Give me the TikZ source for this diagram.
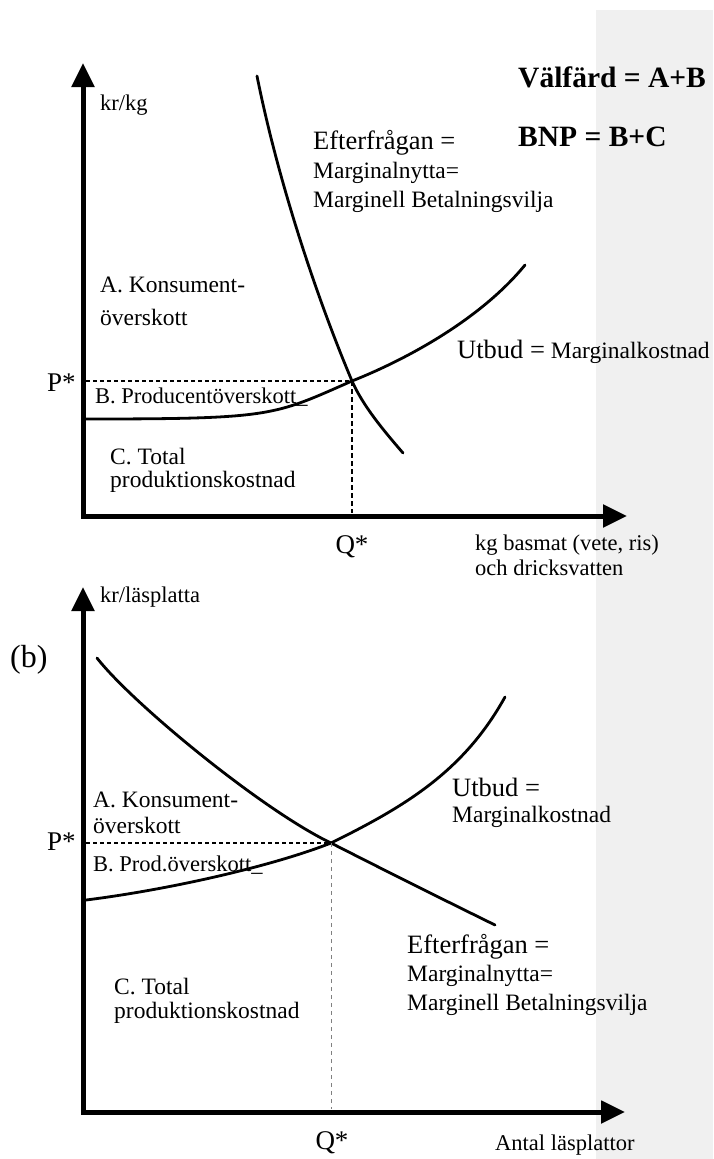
\documentclass[tikz,border=0pt]{standalone}
\usepackage{fontspec}
\setmainfont{Liberation Serif}
\usetikzlibrary{arrows.meta}
\definecolor{panel}{HTML}{F0F0F0}
\tikzset{
  axis/.style={line width=5pt, line join=miter,
    {Triangle[width=22pt,length=24pt]}-{Triangle[width=22pt,length=24pt]}},
  curve/.style={line width=2.8pt, line cap=round},
  guide/.style={line width=1.2pt, dash pattern=on 4pt off 3pt},
  guideq/.style={line width=1.1pt, dash pattern=on 5pt off 3pt},
  guideg/.style={line width=1pt, gray, dash pattern=on 4pt off 4pt},
  txt/.style={anchor=west, inner sep=0pt, font=\fontsize{23.5}{28}\selectfont},
  txtbig/.style={anchor=west, inner sep=0pt, font=\fontsize{26.5}{30}\selectfont},
  txtsm/.style={anchor=west, inner sep=0pt, font=\fontsize{22.5}{27}\selectfont},
  txtbold/.style={anchor=west, inner sep=0pt, font=\fontsize{29.5}{34}\selectfont\bfseries},
  star/.style={inner sep=0pt, font=\fontsize{27}{30}\selectfont}
}
\begin{document}
\begin{tikzpicture}[x=1pt,y=-1pt]
\useasboundingbox (0,0) rectangle (713,1159);
\fill[panel] (596,10) rectangle (713,1159);

% ---------------- top chart ----------------
\coordinate (Ay1) at (83,63);
\coordinate (Ao1) at (83,516);
\coordinate (Ax1) at (627,516);
\coordinate (E1) at (352,381);
\coordinate (P1) at (86,381);
\coordinate (Q1) at (352,513);
\coordinate (D1s) at (257,76);
\coordinate (D1e) at (403,453);
\coordinate (S1s) at (86,419);
\coordinate (S1e) at (525,265);

\draw[curve] (D1s) .. controls (277,176) and (314,291) .. (E1)
                   .. controls (363,406) and (384,431) .. (D1e);
\draw[curve] (S1s) .. controls (274,419) and (273,415.7) .. (E1)
                   .. controls (405,360) and (480,320) .. (S1e);
\draw[guide] (P1) -- (E1);
\draw[guideq] (E1) -- (Q1);
\draw[axis] (Ay1) -- (Ao1) -- (Ax1);

\node[txtsm] (ylab1) at (100,105) {kr/kg};
\node[txtbold] (valf) at (518,77) {Välfärd = A+B};
\node[txtbold] (bnp) at (518,137) {BNP = B+C};
\node[txtbig] (eft1) at (313,143) {Efterfrågan =};
\node[txt] (mn1) at (313,173) {Marginalnytta=};
\node[txt] (mb1) at (313,202) {Marginell Betalningsvilja};
\node[txt] (ka1) at (100,285) {A. Konsument-};
\node[txt] (kb1) at (100,317) {överskott};
\node[star, anchor=west] (ps1) at (47,383) {P*};
\node[txtsm] (pr1) at (95,397) {B. Producentöverskott\_};
\node[txt] (ut1) at (457,352) {{\fontsize{26.5}{30}\selectfont Utbud =} Marginalkostnad};
\node[txt] (ct1) at (110,457) {C. Total};
\node[txt] (pk1) at (110,482) {produktionskostnad};
\node[star] (qs1) at (352,547) {Q*};
\node[txtsm] (xa1) at (475,545) {kg basmat (vete, ris)};
\node[txtsm] (xb1) at (475,568) {och dricksvatten};

% ---------------- bottom chart ----------------
\coordinate (Ay2) at (83,587);
\coordinate (Ao2) at (83,1112);
\coordinate (Ax2) at (625,1112);
\coordinate (E2) at (331,843);
\coordinate (P2) at (86,843);
\coordinate (Q2) at (331,1109);
\coordinate (D2s) at (97,658);
\coordinate (D2e) at (495,925);
\coordinate (S2s) at (86,900);
\coordinate (S2e) at (505,697);

\draw[curve] (D2s) .. controls (132,703) and (262,810) .. (E2)
                   .. controls (386,871) and (440,898) .. (D2e);
\draw[curve] (S2s) .. controls (166,890) and (270,867) .. (E2)
                   .. controls (406,806) and (464,771) .. (S2e);
\draw[guide] (P2) -- (E2);
\draw[guideg] (E2) -- (Q2);
\draw[axis] (Ay2) -- (Ao2) -- (Ax2);

\node[txtsm] (ylab2) at (100,597) {kr/läsplatta};
\node[inner sep=0pt, anchor=west, font=\fontsize{32}{36}\selectfont] (bl) at (10,660) {(b)};
\node[txt] (ka2) at (93,800) {A. Konsument-};
\node[txt] (kb2) at (93,825) {överskott};
\node[star, anchor=west] (ps2) at (47,842) {P*};
\node[txtsm] (pr2) at (93,865) {B. Prod.överskott\_};
\node[txtbig] (ut2) at (452,787) {Utbud =};
\node[txt] (mk2) at (452,817) {Marginalkostnad};
\node[txtbig] (eft2) at (407,947) {Efterfrågan =};
\node[txt] (mn2) at (407,976) {Marginalnytta=};
\node[txt] (mb2) at (407,1005) {Marginell Betalningsvilja};
\node[txt] (ct2) at (114,987) {C. Total};
\node[txt] (pk2) at (114,1013) {produktionskostnad};
\node[star] (qs2) at (332,1143) {Q*};
\node[txtsm] (xa2) at (495,1145) {Antal läsplattor};
\end{tikzpicture}
\end{document}
